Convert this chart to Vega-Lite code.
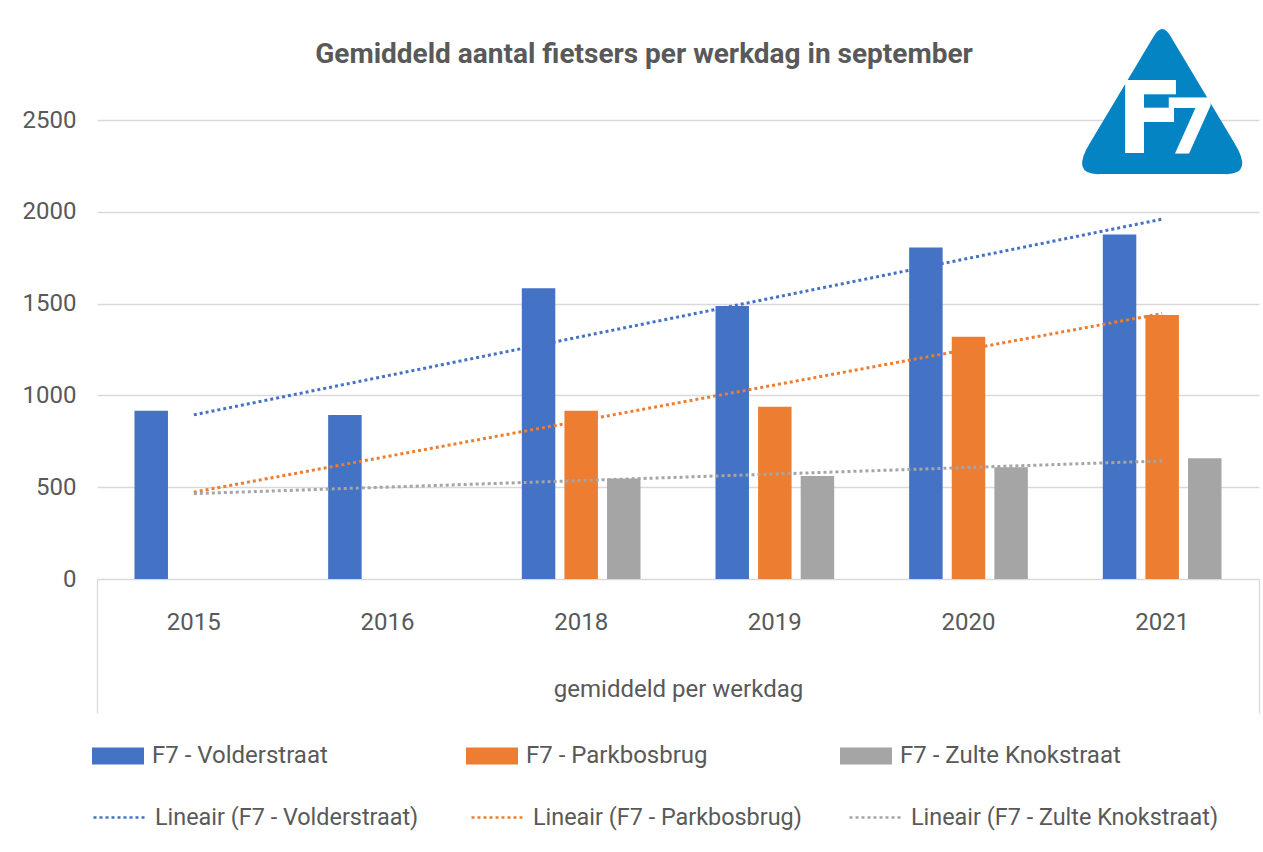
{
  "$schema": "https://vega.github.io/schema/vega-lite/v6.json",
  "autosize": {"type": "none"},
  "width": 1162,
  "height": 459,
  "padding": {"left": 97, "top": 120, "right": 4, "bottom": 273},
  "background": "white",
  "config": {
    "view": {"stroke": null},
    "font": "Roboto",
    "axis": {"labelFont": "Roboto", "labelColor": "#595959", "titleColor": "#595959"},
    "legend": {"labelFont": "Roboto", "labelColor": "#595959"}
  },
  "title": {
    "text": "Gemiddeld aantal fietsers per werkdag in september",
    "font": "Roboto",
    "fontSize": 28,
    "fontWeight": "bold",
    "color": "#595959",
    "anchor": "middle",
    "baseline": "alphabetic",
    "dx": -34,
    "offset": -62
  },
  "datasets": {
    "bars": [
      {"year": "2015", "series": "F7 - Volderstraat", "value": 917},
      {"year": "2016", "series": "F7 - Volderstraat", "value": 893},
      {"year": "2018", "series": "F7 - Volderstraat", "value": 1583},
      {"year": "2018", "series": "F7 - Parkbosbrug", "value": 917},
      {"year": "2018", "series": "F7 - Zulte Knokstraat", "value": 548},
      {"year": "2019", "series": "F7 - Volderstraat", "value": 1487},
      {"year": "2019", "series": "F7 - Parkbosbrug", "value": 938},
      {"year": "2019", "series": "F7 - Zulte Knokstraat", "value": 561},
      {"year": "2020", "series": "F7 - Volderstraat", "value": 1805},
      {"year": "2020", "series": "F7 - Parkbosbrug", "value": 1320},
      {"year": "2020", "series": "F7 - Zulte Knokstraat", "value": 608},
      {"year": "2021", "series": "F7 - Volderstraat", "value": 1877},
      {"year": "2021", "series": "F7 - Parkbosbrug", "value": 1438},
      {"year": "2021", "series": "F7 - Zulte Knokstraat", "value": 657}
    ],
    "trend": [
      {"year": "2015", "trend": "Lineair (F7 - Volderstraat)", "value": 894},
      {"year": "2021", "trend": "Lineair (F7 - Volderstraat)", "value": 1960},
      {"year": "2015", "trend": "Lineair (F7 - Parkbosbrug)", "value": 473},
      {"year": "2021", "trend": "Lineair (F7 - Parkbosbrug)", "value": 1446},
      {"year": "2015", "trend": "Lineair (F7 - Zulte Knokstraat)", "value": 465},
      {"year": "2021", "trend": "Lineair (F7 - Zulte Knokstraat)", "value": 643}
    ],
    "group": [
      {"grp": "gemiddeld per werkdag"}
    ],
    "logo": [
      {"name": "F7"}
    ]
  },
  "layer": [
    {
      "data": {"name": "bars"},
      "mark": {"type": "bar"},
      "encoding": {
        "x": {
          "field": "year", "type": "nominal",
          "scale": {"domain": ["2015", "2016", "2018", "2019", "2020", "2021"], "paddingInner": 0.34, "paddingOuter": 0.17},
          "axis": {"title": null, "orient": "bottom", "ticks": false, "domain": false, "grid": false, "labelAngle": 0, "labelFontSize": 24, "labelPadding": 43, "labelBaseline": "middle"}
        },
        "xOffset": {
          "field": "series", "type": "nominal",
          "scale": {"domain": ["F7 - Volderstraat", "F7 - Parkbosbrug", "F7 - Zulte Knokstraat"], "paddingInner": 0.214, "paddingOuter": 0.107}
        },
        "y": {
          "field": "value", "type": "quantitative",
          "scale": {"domain": [0, 2500], "nice": false, "zero": true},
          "axis": {"title": null, "values": [0, 500, 1000, 1500, 2000, 2500], "format": "d", "ticks": false, "domain": false, "labelFontSize": 24, "labelPadding": 21, "gridColor": "#D9D9D9", "gridWidth": 1.3}
        },
        "color": {
          "field": "series", "type": "nominal",
          "scale": {"domain": ["F7 - Volderstraat", "F7 - Parkbosbrug", "F7 - Zulte Knokstraat"], "range": ["#4472C4", "#ED7D31", "#A5A5A5"]},
          "legend": {
            "title": null, "orient": "none", "legendX": -5, "legendY": 610, "direction": "horizontal", "columns": 3,
            "gridAlign": "all", "columnPadding": 93, "padding": 0, "labelLimit": 0,
            "symbolType": "M-1,-0.327H1V0.327H-1Z", "symbolSize": 2704, "symbolStrokeWidth": 0,
            "labelFontSize": 24, "labelOffset": 8, "labelColor": "#595959"
          }
        }
      }
    },
    {
      "data": {"name": "trend"},
      "mark": {"type": "line", "strokeDash": [3, 3], "strokeWidth": 3},
      "encoding": {
        "x": {
          "field": "year", "type": "nominal",
          "scale": {"domain": ["2015", "2016", "2018", "2019", "2020", "2021"], "paddingInner": 0.34, "paddingOuter": 0.17},
          "axis": null
        },
        "y": {"field": "value", "type": "quantitative"},
        "stroke": {
          "field": "trend", "type": "nominal",
          "scale": {"domain": ["Lineair (F7 - Volderstraat)", "Lineair (F7 - Parkbosbrug)", "Lineair (F7 - Zulte Knokstraat)"], "range": ["#4472C4", "#ED7D31", "#A5A5A5"]},
          "legend": {
            "title": null, "orient": "none", "legendX": -5, "legendY": 670, "direction": "horizontal", "columns": 3,
            "gridAlign": "all", "columnPadding": 3, "padding": 0, "labelLimit": 0,
            "symbolType": "stroke", "symbolSize": 2704, "symbolStrokeWidth": 2.5, "symbolDash": [3, 3],
            "labelFontSize": 23.4, "labelOffset": 8, "labelColor": "#595959"
          }
        }
      }
    },
    {
      "data": {"name": "group"},
      "mark": {"type": "tick", "opacity": 0},
      "encoding": {
        "x": {
          "field": "grp", "type": "nominal",
          "scale": {"paddingInner": 0, "paddingOuter": 0},
          "axis": {"title": null, "orient": "bottom", "tickBand": "extent", "ticks": true, "tickSize": 134, "tickColor": "#D9D9D9", "tickWidth": 1.3, "domain": false, "grid": false, "labelAngle": 0, "labelFontSize": 24, "labelLimit": 0, "labelPadding": -24, "labelBaseline": "middle"}
        }
      }
    },
    {
      "data": {"name": "logo"},
      "mark": {"type": "point", "shape": "M-0.1,-0.79Q0,-0.96,0.1,-0.79L0.87,0.5Q1.12,0.9,0.75,0.885L-0.75,0.885Q-1.12,0.9,-0.87,0.5Z", "size": 27225, "filled": true, "fill": "#0584C4", "opacity": 1, "strokeWidth": 0},
      "encoding": {
        "x": {"datum": "2021", "type": "nominal", "scale": {"domain": ["2015", "2016", "2018", "2019", "2020", "2021"], "paddingInner": 0.34, "paddingOuter": 0.17}, "axis": null},
        "y": {"datum": 2603, "type": "quantitative"}
      }
    },
    {
      "data": {"name": "logo"},
      "mark": {"type": "text", "text": "F", "font": "DejaVu Sans", "fontWeight": "bold", "fontSize": 100, "fill": "white", "baseline": "alphabetic", "align": "center", "dx": -12},
      "encoding": {
        "x": {"datum": "2021", "type": "nominal", "scale": {"domain": ["2015", "2016", "2018", "2019", "2020", "2021"], "paddingInner": 0.34, "paddingOuter": 0.17}, "axis": null},
        "y": {"datum": 2320, "type": "quantitative"}
      }
    },
    {
      "data": {"name": "logo"},
      "mark": {"type": "text", "text": "7", "font": "DejaVu Sans", "fontWeight": "bold", "fontSize": 76, "fill": "white", "baseline": "alphabetic", "align": "center", "dx": 28},
      "encoding": {
        "x": {"datum": "2021", "type": "nominal", "scale": {"domain": ["2015", "2016", "2018", "2019", "2020", "2021"], "paddingInner": 0.34, "paddingOuter": 0.17}, "axis": null},
        "y": {"datum": 2320, "type": "quantitative"}
      }
    }
  ],
  "resolve": {"scale": {"x": "independent"}}
}
